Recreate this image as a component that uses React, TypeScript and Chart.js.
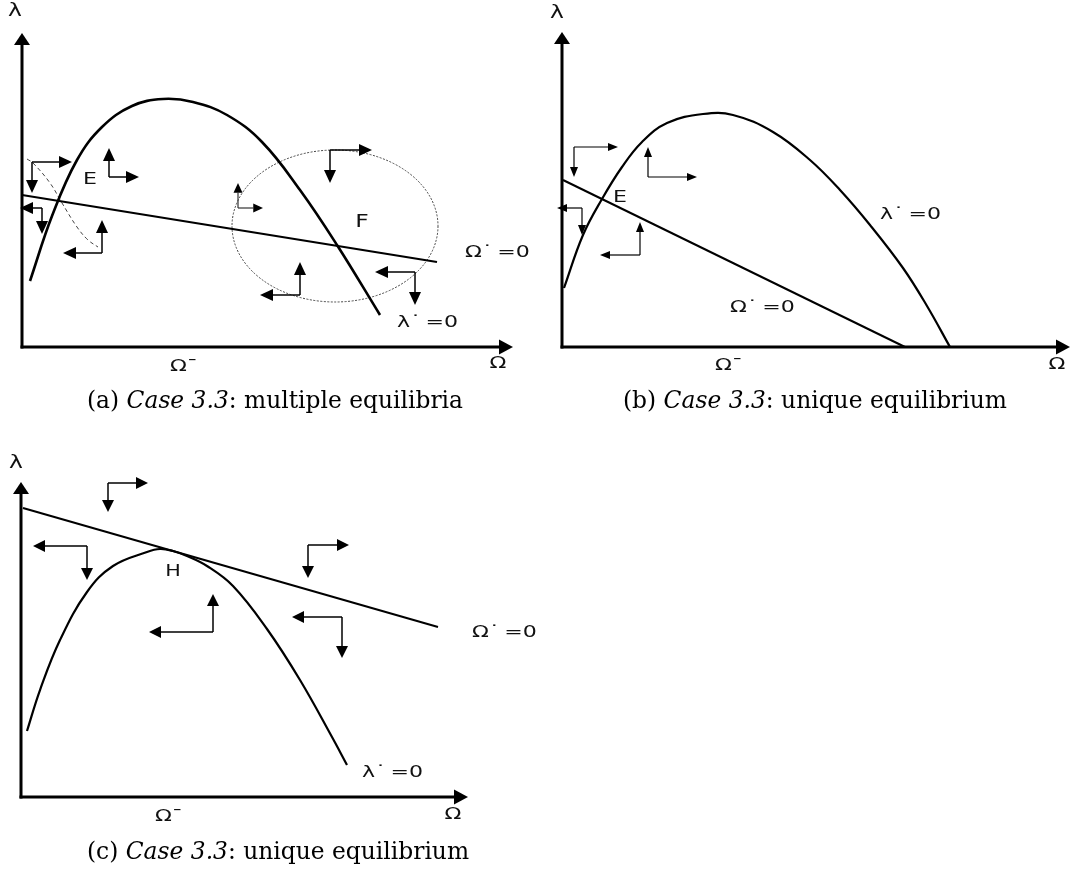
import { useEffect, useRef } from 'react';
import { Chart, registerables } from 'chart.js';

Chart.register(...registerables);

// ---------- Panel (a): multiple equilibria ----------
const aCurveX = [8, 30, 55, 80, 110, 141, 171, 205, 240, 278, 315, 358];
const aCurveY = [66, 131, 187, 220, 241, 248, 245, 232, 205, 157, 102, 32];
const aLineX = [0, 415];
const aLineY = [152, 85];
const aDashX = [5, 11, 28, 40, 55, 66, 76];
const aDashY = [188, 184, 164, 144, 120, 107, 100];
const aCycle = [313, 121, 103, 76]; // centre x, centre y, radius x, radius y
const aArrowX = [10, 87, 20, 80, 216, 308, 278, 393];
const aArrowY = [185, 170, 139, 94, 139, 197, 52, 75];
const aArrowToX = [50, 117, -2, 41, 241, 350, 238, 353];
const aArrowToY = [154, 199, 113, 127, 164, 164, 85, 42];
const aAxisEnd = [491, 314];

// ---------- Panel (b): unique equilibrium ----------
const bCurveX = [2, 21, 40, 60, 80, 105, 141, 171, 211, 248, 278, 308, 341, 365, 388];
const bCurveY = [59, 112, 148, 180, 205, 224, 233, 232, 215, 187, 157, 122, 79, 41, 0];
const bLineX = [1, 343];
const bLineY = [167, 0];
const bArrowX = [12, 86, 20, 78];
const bArrowY = [200, 170, 139, 92];
const bArrowToX = [56, 135, -5, 38];
const bArrowToY = [170, 200, 112, 125];
const bAxisEnd = [508, 315];

// ---------- Panel (c): unique equilibrium (tangency) ----------
const cCurveX = [6, 19, 39, 66, 92, 126, 139, 152, 166, 186, 212, 246, 279, 311, 326];
const cCurveY = [66, 107, 157, 205, 231, 245, 248, 246, 241, 231, 211, 168, 117, 60, 32];
const cLineX = [2, 417];
const cLineY = [289, 170];
const cArrowX = [87, 66, 192, 287, 321];
const cArrowY = [314, 251, 165, 252, 180];
const cArrowToX = [127, 12, 128, 328, 271];
const cArrowToY = [285, 217, 203, 219, 139];
const cAxisEnd = [447, 315];

// ---------- Text ----------
const dotLabelO = 'Ω˙\u2009=0';
const dotLabelL = 'λ˙\u2009=0';
const captionA = [['(a) ', false], ['Case 3.3', true], [': multiple equilibria', false]];
const captionB = [['(b) ', false], ['Case 3.3', true], [': unique equilibrium', false]];
const captionC = [['(c) ', false], ['Case 3.3', true], [': unique equilibrium', false]];

const W = 1072;
const H = 875;
const ORIGIN_A = [22, 347];
const ORIGIN_B = [562, 347];
const ORIGIN_C = [21, 797];

const zip = (xs: number[], ys: number[]) => xs.map((x, i) => ({ x, y: ys[i] }));

type Label = { t: string; x: number; y: number; align: 'left' | 'center'; size: number };

const panels = [
  {
    xId: 'xa', yId: 'ya', axisEnd: aAxisEnd,
    ax: aArrowX, ay: aArrowY, atx: aArrowToX, aty: aArrowToY,
    head: [13, 12], lw: 1.5, small: [4],
    cycle: aCycle,
    caption: captionA, capX: 65, capY: -55,
    labels: [
      { t: 'λ', x: -7, y: 335, align: 'center', size: 17 },
      { t: 'Ω', x: 476, y: -17, align: 'center', size: 16 },
      { t: 'Ω¯', x: 148, y: -20, align: 'left', size: 16 },
      { t: 'E', x: 68, y: 167, align: 'center', size: 16 },
      { t: 'F', x: 340, y: 124, align: 'center', size: 17 },
      { t: dotLabelO, x: 443, y: 94, align: 'left', size: 16 },
      { t: dotLabelL, x: 375, y: 24, align: 'left', size: 16 },
    ] as Label[],
  },
  {
    xId: 'xb', yId: 'yb', axisEnd: bAxisEnd,
    ax: bArrowX, ay: bArrowY, atx: bArrowToX, aty: bArrowToY,
    head: [10, 8], lw: 1.2, small: [] as number[],
    cycle: null,
    caption: captionB, capX: 61, capY: -55,
    labels: [
      { t: 'λ', x: -5, y: 333, align: 'center', size: 17 },
      { t: 'Ω', x: 495, y: -18, align: 'center', size: 16 },
      { t: 'Ω¯', x: 153, y: -19, align: 'left', size: 16 },
      { t: 'E', x: 58, y: 149, align: 'center', size: 16 },
      { t: dotLabelL, x: 318, y: 132, align: 'left', size: 16 },
      { t: dotLabelO, x: 168, y: 39, align: 'left', size: 16 },
    ] as Label[],
  },
  {
    xId: 'xc', yId: 'yc', axisEnd: cAxisEnd,
    ax: cArrowX, ay: cArrowY, atx: cArrowToX, aty: cArrowToY,
    head: [12, 12], lw: 1.5, small: [] as number[],
    cycle: null,
    caption: captionC, capX: 66, capY: -56,
    labels: [
      { t: 'λ', x: -5, y: 333, align: 'center', size: 17 },
      { t: 'Ω', x: 432, y: -18, align: 'center', size: 16 },
      { t: 'Ω¯', x: 134, y: -20, align: 'left', size: 16 },
      { t: 'H', x: 152, y: 225, align: 'center', size: 15 },
      { t: dotLabelO, x: 451, y: 164, align: 'left', size: 16 },
      { t: dotLabelL, x: 341, y: 24, align: 'left', size: 16 },
    ] as Label[],
  },
];

function arrow(ctx: CanvasRenderingContext2D, x1: number, y1: number, x2: number, y2: number, len: number, wid: number, lw: number) {
  const dx = x2 - x1, dy = y2 - y1;
  const d = Math.hypot(dx, dy) || 1;
  const ux = dx / d, uy = dy / d;
  const bx = x2 - ux * len, by = y2 - uy * len;
  ctx.lineWidth = lw;
  ctx.beginPath();
  ctx.moveTo(x1, y1);
  ctx.lineTo(bx, by);
  ctx.stroke();
  ctx.beginPath();
  ctx.moveTo(x2, y2);
  ctx.lineTo(bx - uy * wid / 2, by + ux * wid / 2);
  ctx.lineTo(bx + uy * wid / 2, by - ux * wid / 2);
  ctx.closePath();
  ctx.fill();
}

const STRETCH = 1.38;
const SANS = '"DejaVu Sans", Verdana, sans-serif';
const SERIF = '"DejaVu Serif", serif';

const diagramPlugin = {
  id: 'diagram',
  beforeDatasetsDraw(chart: any) {
    const ctx: CanvasRenderingContext2D = chart.ctx;
    panels.forEach((p) => {
      if (!p.cycle) return;
      const xs = chart.scales[p.xId], ys = chart.scales[p.yId];
      const cx = xs.getPixelForValue(p.cycle[0]);
      const cy = ys.getPixelForValue(p.cycle[1]);
      const rx = xs.getPixelForValue(p.cycle[0] + p.cycle[2]) - cx;
      const ry = cy - ys.getPixelForValue(p.cycle[1] + p.cycle[3]);
      ctx.save();
      ctx.strokeStyle = '#444';
      ctx.lineWidth = 1;
      ctx.setLineDash([2, 1.5]);
      ctx.beginPath();
      ctx.ellipse(cx, cy, rx, ry, 0, 0, Math.PI * 2);
      ctx.stroke();
      ctx.restore();
    });
  },
  afterDatasetsDraw(chart: any) {
    const ctx: CanvasRenderingContext2D = chart.ctx;
    ctx.save();
    ctx.strokeStyle = '#000';
    ctx.fillStyle = '#000';
    ctx.lineCap = 'butt';

    // caption font size fitted to the reference width of panel (b)'s caption
    let capW = 0;
    captionB.forEach(([t, it]) => {
      ctx.font = `${it ? 'italic ' : ''}20px ${SERIF}`;
      capW += ctx.measureText(t as string).width;
    });
    const capSize = (20 * 384) / capW;

    panels.forEach((p) => {
      const xs = chart.scales[p.xId], ys = chart.scales[p.yId];
      const X = (v: number) => xs.getPixelForValue(v);
      const Y = (v: number) => ys.getPixelForValue(v);

      // axes
      ctx.fillStyle = '#000';
      arrow(ctx, X(0) - 1.5, Y(0), X(p.axisEnd[0]), Y(0), 14, 15, 3);
      arrow(ctx, X(0), Y(0) + 1.5, X(0), Y(p.axisEnd[1]), 12, 16, 3);

      // phase arrows
      for (let i = 0; i < p.ax.length; i++) {
        const k = p.small.includes(i) ? 0.75 : 1;
        const len = p.head[0] * k, wid = p.head[1] * k, lw = p.lw * (k < 1 ? 0.8 : 1);
        const cx = X(p.ax[i]), cy = Y(p.ay[i]);
        ctx.strokeStyle = k < 1 ? '#333' : '#000';
        arrow(ctx, cx, cy, X(p.atx[i]), cy, len, wid, lw);
        arrow(ctx, cx, cy, cx, Y(p.aty[i]), len, wid, lw);
      }
      ctx.strokeStyle = '#000';

      // labels (horizontally stretched like the reference)
      ctx.fillStyle = '#111';
      ctx.textBaseline = 'middle';
      p.labels.forEach((l) => {
        ctx.font = `${l.size}px ${SANS}`;
        ctx.textAlign = l.align;
        ctx.save();
        ctx.translate(X(l.x), Y(l.y));
        ctx.scale(STRETCH, 1);
        ctx.fillText(l.t, 0, 0);
        ctx.restore();
      });

      // caption
      ctx.textAlign = 'left';
      ctx.fillStyle = '#000';
      let tx = X(p.capX);
      const ty = Y(p.capY);
      p.caption.forEach(([t, it]) => {
        ctx.font = `${it ? 'italic ' : ''}${capSize}px ${SERIF}`;
        ctx.fillText(t as string, tx, ty);
        tx += ctx.measureText(t as string).width;
      });
    });
    ctx.restore();
  },
};

const curve = (data: { x: number; y: number }[], xId: string, yId: string, width: number) => ({
  data,
  xAxisID: xId,
  yAxisID: yId,
  showLine: true,
  borderColor: '#000',
  borderWidth: width,
  pointRadius: 0,
  tension: 0.4,
  fill: false,
});

const straight = (data: { x: number; y: number }[], xId: string, yId: string, width: number) => ({
  data,
  xAxisID: xId,
  yAxisID: yId,
  showLine: true,
  borderColor: '#000',
  borderWidth: width,
  pointRadius: 0,
  tension: 0,
  fill: false,
});

const hidden = (min: number, max: number) => ({ type: 'linear' as const, display: false, min, max });

export default function App() {
  const ref = useRef<HTMLCanvasElement>(null);
  useEffect(() => {
    if (!ref.current) return;
    const chart = new Chart(ref.current, {
      type: 'scatter',
      data: {
        datasets: [
          curve(zip(aCurveX, aCurveY), 'xa', 'ya', 2.6),
          straight(zip(aLineX, aLineY), 'xa', 'ya', 2),
          { ...curve(zip(aDashX, aDashY), 'xa', 'ya', 1), borderColor: '#444', borderDash: [4, 3] },
          curve(zip(bCurveX, bCurveY), 'xb', 'yb', 2.2),
          straight(zip(bLineX, bLineY), 'xb', 'yb', 2),
          curve(zip(cCurveX, cCurveY), 'xc', 'yc', 2.2),
          straight(zip(cLineX, cLineY), 'xc', 'yc', 2),
        ] as any,
      },
      options: {
        animation: false,
        responsive: false,
        devicePixelRatio: 1,
        events: [],
        layout: { padding: 0 },
        plugins: { legend: { display: false }, tooltip: { enabled: false } },
        scales: {
          xa: hidden(-ORIGIN_A[0], W - ORIGIN_A[0]),
          ya: hidden(-(H - ORIGIN_A[1]), ORIGIN_A[1]),
          xb: hidden(-ORIGIN_B[0], W - ORIGIN_B[0]),
          yb: hidden(-(H - ORIGIN_B[1]), ORIGIN_B[1]),
          xc: hidden(-ORIGIN_C[0], W - ORIGIN_C[0]),
          yc: hidden(-(H - ORIGIN_C[1]), ORIGIN_C[1]),
        } as any,
      },
      plugins: [diagramPlugin],
    });
    return () => chart.destroy();
  }, []);
  return (
    <div style={{ position: 'absolute', left: 0, top: 0, width: W, height: H, background: '#fff' }}>
      <canvas ref={ref} width={W} height={H} style={{ width: W, height: H, display: 'block' }} />
    </div>
  );
}
